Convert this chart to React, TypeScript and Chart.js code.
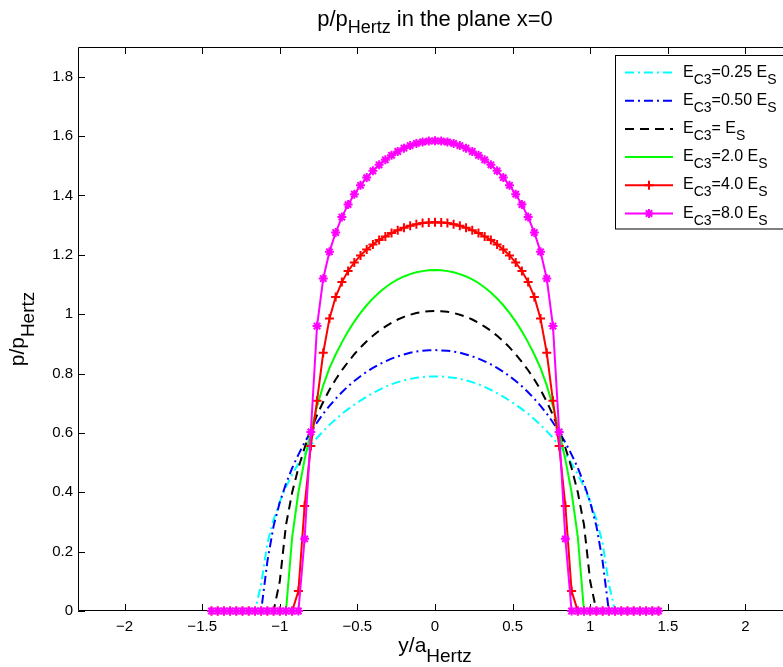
import React, { useEffect, useRef } from "react";
import { Chart, registerables } from "chart.js";

Chart.register(...registerables);

const FONT = '"Liberation Sans", Arial, Helvetica, sans-serif';

const xValues = [
  -1.44, -1.4, -1.36, -1.32, -1.28, -1.24, -1.2, -1.16, -1.12, -1.08, -1.04, -1.0,
  -0.96, -0.92, -0.88, -0.84, -0.8, -0.76, -0.72, -0.68, -0.64, -0.6, -0.56, -0.52,
  -0.48, -0.44, -0.4, -0.36, -0.32, -0.28, -0.24, -0.2, -0.16, -0.12, -0.08, -0.04,
  0,
  0.04, 0.08, 0.12, 0.16, 0.2, 0.24, 0.28, 0.32, 0.36, 0.4, 0.44, 0.48,
  0.52, 0.56, 0.6, 0.64, 0.68, 0.72, 0.76, 0.8, 0.84, 0.88, 0.92, 0.96,
  1.0, 1.04, 1.08, 1.12, 1.16, 1.2, 1.24, 1.28, 1.32, 1.36, 1.4, 1.44,
];

const cyanValues = [
  0, 0, 0, 0, 0, 0, 0, 0,
  0.09, 0.228, 0.308, 0.368, 0.418, 0.46, 0.497, 0.529, 0.558, 0.583, 0.606, 0.627,
  0.646, 0.664, 0.68, 0.695, 0.709, 0.722, 0.734, 0.745, 0.755, 0.764, 0.771, 0.777,
  0.782, 0.786, 0.788, 0.79,
  0.79,
  0.79, 0.788, 0.786, 0.782, 0.777, 0.771, 0.764, 0.755, 0.745, 0.734, 0.722, 0.709,
  0.695, 0.68, 0.664, 0.646, 0.627, 0.606, 0.583, 0.558, 0.529, 0.497, 0.46, 0.418,
  0.368, 0.308, 0.228, 0.09,
  0, 0, 0, 0, 0, 0, 0, 0,
];

const blueValues = [
  0, 0, 0, 0, 0, 0, 0, 0, 0,
  0.167, 0.286, 0.366, 0.429, 0.482, 0.527, 0.568, 0.603, 0.635, 0.665, 0.691, 0.715,
  0.737, 0.757, 0.775, 0.791, 0.806, 0.819, 0.831, 0.841, 0.85, 0.858, 0.864, 0.87,
  0.874, 0.877, 0.878,
  0.879,
  0.878, 0.877, 0.874, 0.87, 0.864, 0.858, 0.85, 0.841, 0.831, 0.819, 0.806, 0.791,
  0.775, 0.757, 0.737, 0.715, 0.691, 0.665, 0.635, 0.603, 0.568, 0.527, 0.482, 0.429,
  0.366, 0.286, 0.167,
  0, 0, 0, 0, 0, 0, 0, 0, 0,
];

const blackValues = [
  0, 0, 0, 0, 0, 0, 0, 0, 0, 0, 0,
  0.1, 0.29, 0.4, 0.482, 0.55, 0.608, 0.66, 0.705, 0.745, 0.78, 0.811, 0.839,
  0.865, 0.888, 0.909, 0.927, 0.944, 0.958, 0.971, 0.982, 0.991, 0.998, 1.004, 1.008,
  1.01,
  1.011,
  1.01, 1.008, 1.004, 0.998, 0.991, 0.982, 0.971, 0.958, 0.944, 0.927, 0.909, 0.888,
  0.865, 0.839, 0.811, 0.78, 0.745, 0.705, 0.66, 0.608, 0.55, 0.482, 0.4, 0.29, 0.1,
  0, 0, 0, 0, 0, 0, 0, 0, 0, 0, 0,
];

const greenValues = [
  0, 0, 0, 0, 0, 0, 0, 0, 0, 0, 0, 0, 0,
  0.25, 0.4, 0.51, 0.605, 0.69, 0.76, 0.818, 0.864, 0.905, 0.942, 0.975, 1.004,
  1.03, 1.053, 1.073, 1.09, 1.105, 1.117, 1.127, 1.135, 1.141, 1.145, 1.148,
  1.149,
  1.148, 1.145, 1.141, 1.135, 1.127, 1.117, 1.105, 1.09, 1.073, 1.053, 1.03,
  1.004, 0.975, 0.942, 0.905, 0.864, 0.818, 0.76, 0.69, 0.605, 0.51, 0.4, 0.25,
  0, 0, 0, 0, 0, 0, 0, 0, 0, 0, 0, 0, 0,
];

const redValues = [
  0, 0, 0, 0, 0, 0, 0, 0, 0, 0, 0, 0, 0, 0,
  0.067, 0.354, 0.556, 0.708, 0.87, 0.985, 1.058, 1.108, 1.145, 1.174, 1.198,
  1.218, 1.235, 1.25, 1.262, 1.273, 1.283, 1.291, 1.298, 1.303, 1.307, 1.309,
  1.31,
  1.309, 1.307, 1.303, 1.298, 1.291, 1.283, 1.273, 1.262, 1.25, 1.235, 1.218,
  1.198, 1.174, 1.145, 1.108, 1.058, 0.985, 0.87, 0.708, 0.556, 0.354, 0.067,
  0, 0, 0, 0, 0, 0, 0, 0, 0, 0, 0, 0, 0, 0,
];

const magentaValues = [
  0, 0, 0, 0, 0, 0, 0, 0, 0, 0, 0, 0, 0, 0, 0,
  0.243, 0.603, 0.96, 1.12, 1.21, 1.275, 1.327, 1.369, 1.404, 1.434, 1.46,
  1.483, 1.503, 1.52, 1.535, 1.548, 1.559, 1.568, 1.575, 1.58, 1.583,
  1.584,
  1.583, 1.58, 1.575, 1.568, 1.559, 1.548, 1.535, 1.52, 1.503, 1.483,
  1.46, 1.434, 1.404, 1.369, 1.327, 1.275, 1.21, 1.12, 0.96, 0.603, 0.243,
  0, 0, 0, 0, 0, 0, 0, 0, 0, 0, 0, 0, 0, 0, 0,
];

const xTicks = [-2, -1.5, -1, -0.5, 0, 0.5, 1, 1.5, 2];
const yTicks = [0, 0.2, 0.4, 0.6, 0.8, 1, 1.2, 1.4, 1.6, 1.8];

const legendLabels = ["0.25 ", "0.50 ", " ", "2.0 ", "4.0 ", "8.0 "];

type Part = { t: string; sub?: boolean };

function drawParts(
  ctx: CanvasRenderingContext2D,
  parts: Part[],
  x: number,
  y: number,
  mainSize: number,
  subSize: number,
  drop: number,
  align: "left" | "center"
) {
  ctx.textAlign = "left";
  ctx.textBaseline = "alphabetic";
  const widths = parts.map((p) => {
    ctx.font = `${p.sub ? subSize : mainSize}px ${FONT}`;
    return ctx.measureText(p.t).width;
  });
  const total = widths.reduce((a, b) => a + b, 0);
  let cx = align === "center" ? x - total / 2 : x;
  parts.forEach((p, i) => {
    ctx.font = `${p.sub ? subSize : mainSize}px ${FONT}`;
    ctx.fillText(p.t, cx, p.sub ? y + drop : y);
    cx += widths[i];
  });
}

function drawMarker(ctx: CanvasRenderingContext2D, style: string, x: number, y: number, r: number) {
  ctx.beginPath();
  if (style === "cross" || style === "star") {
    ctx.moveTo(x - r, y);
    ctx.lineTo(x + r, y);
    ctx.moveTo(x, y - r);
    ctx.lineTo(x, y + r);
  }
  if (style === "star") {
    const d = r * Math.SQRT1_2;
    ctx.moveTo(x - d, y - d);
    ctx.lineTo(x + d, y + d);
    ctx.moveTo(x - d, y + d);
    ctx.lineTo(x + d, y - d);
  }
  ctx.stroke();
}

const seriesStyle = [
  { values: cyanValues, color: "#00FFFF", dash: [9, 4, 2, 4], width: 2, marker: "" },
  { values: blueValues, color: "#0000FF", dash: [9, 4, 2, 4], width: 2, marker: "" },
  { values: blackValues, color: "#000000", dash: [9, 6], width: 2, marker: "" },
  { values: greenValues, color: "#00FF00", dash: [], width: 2, marker: "" },
  { values: redValues, color: "#FF0000", dash: [], width: 2, marker: "cross" },
  { values: magentaValues, color: "#FF00FF", dash: [], width: 2, marker: "star" },
];

export default function App() {
  const ref = useRef<HTMLCanvasElement | null>(null);

  useEffect(() => {
    if (!ref.current) return;

    const framePlugin = {
      id: "frame",
      beforeDatasetsDraw(chart: any) {
        const { ctx, chartArea: a, scales } = chart;
        ctx.save();
        ctx.strokeStyle = "#000";
        ctx.lineWidth = 1;
        ctx.beginPath();
        ctx.rect(a.left + 0.5, a.top + 0.5, a.right - a.left - 1, a.bottom - a.top - 1);
        ctx.stroke();
        const tl = 7;
        ctx.beginPath();
        xTicks.forEach((v) => {
          const px = Math.round(scales.x.getPixelForValue(v)) + 0.5;
          ctx.moveTo(px, a.bottom);
          ctx.lineTo(px, a.bottom - tl);
          ctx.moveTo(px, a.top);
          ctx.lineTo(px, a.top + tl);
        });
        yTicks.forEach((v) => {
          const py = Math.round(scales.y.getPixelForValue(v)) + 0.5;
          ctx.moveTo(a.left, py);
          ctx.lineTo(a.left + tl, py);
          ctx.moveTo(a.right, py);
          ctx.lineTo(a.right - tl, py);
        });
        ctx.stroke();
        ctx.restore();
      },
      afterDraw(chart: any) {
        const { ctx, chartArea: a } = chart;
        ctx.save();
        ctx.fillStyle = "#000";
        const cx = (a.left + a.right) / 2;
        // title
        drawParts(ctx, [{ t: "p/p" }, { t: "Hertz", sub: true }, { t: " in the plane x=0" }], cx, 26, 22, 18, 7, "center");
        // x label
        drawParts(ctx, [{ t: "y/a" }, { t: "Hertz", sub: true }], cx, 652, 21, 19, 10, "center");
        // y label
        ctx.save();
        ctx.translate(24, (a.top + a.bottom) / 2);
        ctx.rotate(-Math.PI / 2);
        drawParts(ctx, [{ t: "p/p" }, { t: "Hertz", sub: true }], 0, 0, 21, 19, 10, "center");
        ctx.restore();

        // legend
        const lx = 615.5, ly = 55.5, lw = 180, lh = 173.5;
        ctx.fillStyle = "#fff";
        ctx.fillRect(lx, ly, lw, lh);
        ctx.strokeStyle = "#000";
        ctx.lineWidth = 1;
        ctx.strokeRect(lx, ly, lw, lh);
        seriesStyle.forEach((s, i) => {
          const ry = 72.5 + i * 28.2;
          ctx.save();
          ctx.strokeStyle = s.color;
          ctx.lineWidth = s.width;
          ctx.setLineDash(s.dash);
          ctx.beginPath();
          ctx.moveTo(625, ry);
          ctx.lineTo(673, ry);
          ctx.stroke();
          ctx.setLineDash([]);
          if (s.marker) drawMarker(ctx, s.marker, 649, ry, 4.5);
          ctx.restore();
          ctx.fillStyle = "#000";
          drawParts(
            ctx,
            [{ t: "E" }, { t: "C3", sub: true }, { t: "=" + legendLabels[i] + "E" }, { t: "S", sub: true }],
            683,
            ry + 4,
            16,
            14,
            7,
            "left"
          );
        });
        ctx.restore();
      },
    };

    const datasets = seriesStyle.map((s, i) => ({
      data: xValues.map((x, k) => ({ x, y: s.values[k] })),
      showLine: true,
      borderColor: s.color,
      backgroundColor: s.color,
      borderWidth: s.width,
      borderDash: s.dash,
      pointStyle: s.marker || "circle",
      pointRadius: s.marker ? 4.5 : 0,
      pointBorderWidth: 2,
      pointBorderColor: s.color,
      pointBackgroundColor: s.color,
      tension: 0,
      clip: false as any,
      order: seriesStyle.length - i,
    }));

    const tickFont = { family: FONT, size: 15 };

    const chart = new Chart(ref.current, {
      type: "scatter",
      data: { datasets: datasets as any },
      options: {
        responsive: false,
        animation: false,
        layout: { padding: { left: 0, right: 8, top: 47, bottom: 0 } },
        plugins: {
          legend: { display: false },
          title: { display: false },
          tooltip: { enabled: false },
        },
        scales: {
          x: {
            type: "linear",
            min: -2.3,
            max: 2.3,
            grid: { display: false, drawTicks: false },
            border: { display: false },
            afterBuildTicks: (s: any) => {
              s.ticks = xTicks.map((v) => ({ value: v }));
            },
            afterFit: (s: any) => {
              s.height = 56;
            },
            ticks: {
              font: tickFont,
              color: "#000",
              padding: 7,
              maxRotation: 0,
              autoSkip: false,
              callback: (v: any) => String(v).replace("-", "\u2212"),
            },
          },
          y: {
            type: "linear",
            min: 0,
            max: 1.9,
            grid: { display: false, drawTicks: false },
            border: { display: false },
            afterBuildTicks: (s: any) => {
              s.ticks = yTicks.map((v) => ({ value: v }));
            },
            afterFit: (s: any) => {
              s.width = 78;
            },
            ticks: {
              font: tickFont,
              color: "#000",
              padding: 5,
              autoSkip: false,
              callback: (v: any) => String(Number(Number(v).toFixed(1))),
            },
          },
        },
      },
      plugins: [framePlugin],
    });

    return () => chart.destroy();
  }, []);

  return (
    <div
      style={{
        position: "fixed",
        left: 0,
        top: 0,
        width: 783,
        height: 667,
        overflow: "hidden",
        background: "#fff",
      }}
    >
      <canvas ref={ref} width={800} height={667} style={{ display: "block" }} />
    </div>
  );
}
